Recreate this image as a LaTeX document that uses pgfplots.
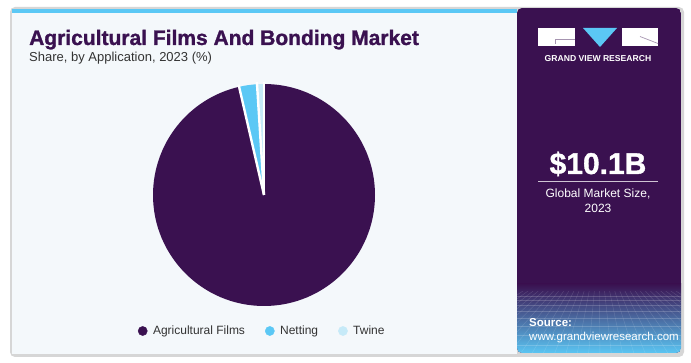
\documentclass[border=0pt]{standalone}
\usepackage{pgfplots}
\usepackage{pgfplotstable}
\pgfplotsset{compat=1.18}
\usepackage{fontspec}
\setmainfont{Liberation Sans}
\newfontfamily\heavyfont{Liberation Sans Bold}[FakeBold=1.2]
\definecolor{gvrpurple}{HTML}{3A1150}
\definecolor{netblue}{HTML}{5BC8F5}
\definecolor{twinec}{HTML}{C6EAF8}
\definecolor{panelbg}{HTML}{F4F8FB}
\definecolor{textgray}{HTML}{333333}
\definecolor{gridblue}{HTML}{4C5A9E}

\pgfplotstableread{
label share
Agricultural 96.4
Netting 2.6
Twine 1.0
}\piedata
\pgfplotstablegetelem{0}{share}\of\piedata \let\shareA\pgfplotsretval
\pgfplotstablegetelem{1}{share}\of\piedata \let\shareB\pgfplotsretval
\pgfplotstablegetelem{2}{share}\of\piedata \let\shareC\pgfplotsretval
\pgfmathsetmacro{\aA}{90-3.6*\shareA}
\pgfmathsetmacro{\aB}{\aA-3.6*\shareB}
\pgfmathsetmacro{\aC}{\aB-3.6*\shareC}
\pgfmathsetmacro{\xA}{cos(\aA)}\pgfmathsetmacro{\yA}{sin(\aA)}
\pgfmathsetmacro{\xB}{cos(\aB)}\pgfmathsetmacro{\yB}{sin(\aB)}
\pgfmathsetmacro{\xAo}{1.02*cos(\aA)}\pgfmathsetmacro{\yAo}{1.02*sin(\aA)}
\pgfmathsetmacro{\xBo}{1.02*cos(\aB)}\pgfmathsetmacro{\yBo}{1.02*sin(\aB)}

\begin{document}%
\begin{tikzpicture}[x=1pt,y=1pt]
\useasboundingbox (0,0) rectangle (691,363);
\fill[white] (0,0) rectangle (691,363);
\coordinate (piec) at (264,168);
\begin{scope}[y=-1pt, shift={(0,-363)}]
  % card
  \fill[black!16, rounded corners=5pt] (10,7) rectangle (684,357);
  \fill[panelbg] (12,9) rectangle (517,354);
  \fill[netblue] (12,9) rectangle (517,13);
  % right panel
  \begin{scope}
    \clip[rounded corners=5pt] (517,8) rectangle (681,353);
    \fill[gvrpurple] (517,8) rectangle (681,353);
    \shade[top color=gvrpurple, middle color=gridblue, bottom color=netblue] (517,284) rectangle (681,354);
    \clip (517,292) rectangle (681,354);
    \foreach \yy in {296,300,305,311,318,326,335,345}
      \draw[white, opacity=0.18, line width=0.4pt] (517,\yy) -- (681,\yy);
    \foreach \xx in {420,432,...,780}
      \draw[white, opacity=0.15, line width=0.4pt] (599,240) -- (\xx,360);
  \end{scope}
  % title
  \node[anchor=base west, inner sep=0pt, text=gvrpurple, font=\fontsize{21}{24}\heavyfont] at (29,45) {Agricultural Films And Bonding Market};
  \node[anchor=base west, inner sep=0pt, text=textgray, font=\fontsize{13}{15}\selectfont] at (29,62) {Share, by Application, 2023 (\%)};
  % logo
  \fill[white] (538,28) rectangle (575,46);
  \draw[gvrpurple!45!white, line width=0.7pt] (575,39.5) -- (555,39.5) -- (555,44);
  \fill[netblue] (583,28) -- (617,28) -- (600,47) -- cycle;
  \fill[white] (622,28) rectangle (658,46);
  \draw[gvrpurple!45!white, line width=0.7pt] (640,36.5) -- (658,43.5);
  \node[text=white, inner sep=0pt, font=\fontsize{8.6}{10}\selectfont\bfseries] at (598,58.5) {GRAND VIEW RESEARCH};
  % market size
  \node[text=white, inner sep=0pt, anchor=base, font=\fontsize{30}{34}\heavyfont] at (598,174) {\$10.1B};
  \draw[white!75!gvrpurple, line width=1pt] (538,182) -- (658,182);
  \node[text=white, inner sep=0pt, anchor=base, font=\fontsize{12}{14}\selectfont] at (598,198) {Global Market Size,};
  \node[text=white, inner sep=0pt, anchor=base, font=\fontsize{12}{14}\selectfont] at (598,213) {2023};
  % source
  \node[text=white, inner sep=0pt, anchor=base west, font=\fontsize{11.5}{14}\selectfont\bfseries] at (529,327) {Source:};
  \node[text=white, inner sep=0pt, anchor=base west, font=\fontsize{11.5}{14}\selectfont] at (529,341) {www.grandviewresearch.com};
\end{scope}

\begin{axis}[
  at={(piec)}, anchor=center,
  width=222pt, height=222pt, scale only axis,
  xmin=-1, xmax=1, ymin=-1, ymax=1,
  hide axis,
  clip=false,
  legend columns=3,
  legend style={at={(0.5,-0.1126)}, anchor=center, draw=none, fill=none,
    font=\fontsize{12}{14}\selectfont, text=textgray,
    /tikz/every even column/.append style={column sep=14.5pt},
    nodes={inner xsep=5.5pt},
    inner sep=0pt},
  legend image code/.code={\fill[#1] (0pt,0pt) circle (4.6pt);},
]
\fill[gvrpurple] (axis cs:0,0) -- (axis cs:0,1) arc[start angle=90, end angle=\aA, radius=111pt] -- cycle;
\fill[netblue] (axis cs:0,0) -- (axis cs:\xA,\yA) arc[start angle=\aA, end angle=\aB, radius=111pt] -- cycle;
\fill[twinec] (axis cs:0,0) -- (axis cs:\xB,\yB) arc[start angle=\aB, end angle=\aC, radius=111pt] -- cycle;
\draw[white, line width=2.4pt] (axis cs:0,0) -- (axis cs:0,1.02);
\draw[white, line width=2.4pt] (axis cs:0,0) -- (axis cs:\xAo,\yAo);
\draw[white, line width=2.4pt] (axis cs:0,0) -- (axis cs:\xBo,\yBo);
\addlegendimage{gvrpurple}
\addlegendentry{Agricultural Films}
\addlegendimage{netblue}
\addlegendentry{Netting}
\addlegendimage{twinec}
\addlegendentry{Twine}
\end{axis}
\end{tikzpicture}%
\end{document}
